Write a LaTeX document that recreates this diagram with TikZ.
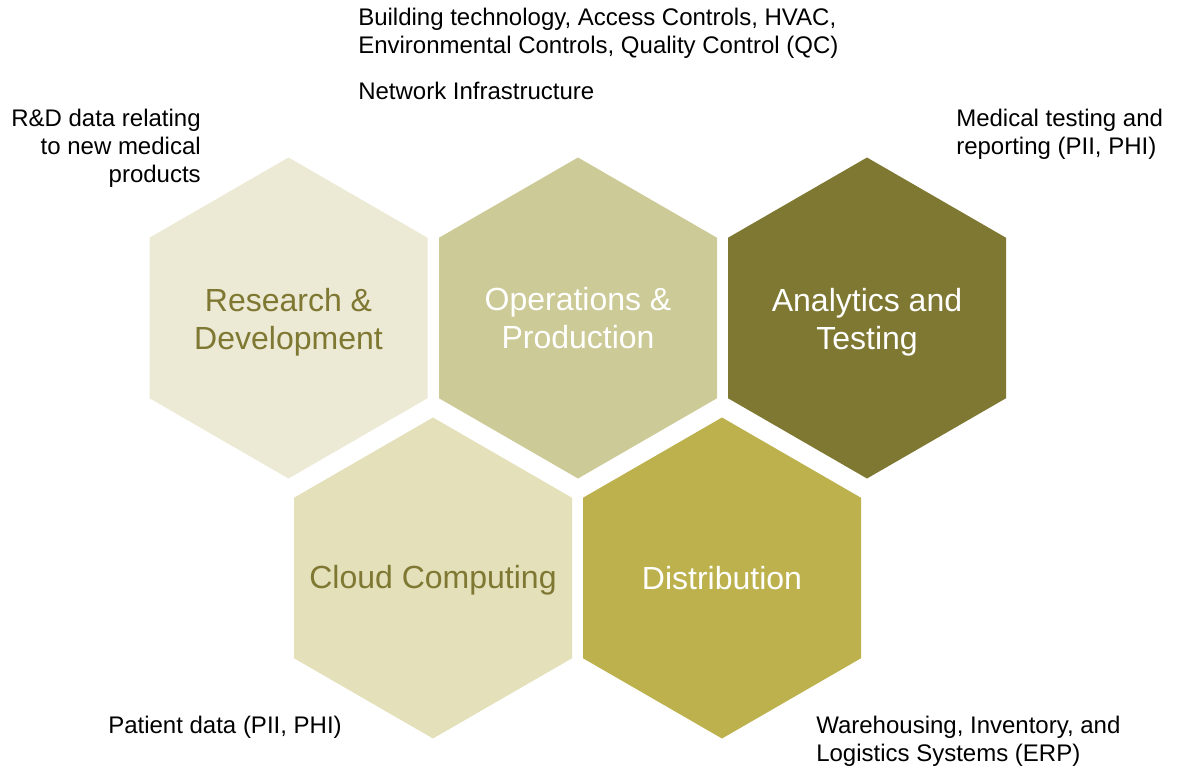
\documentclass[tikz,border=0pt]{standalone}
\usepackage{fontspec}
\setmainfont{Liberation Sans}
\usetikzlibrary{shapes.geometric}

\definecolor{olive}{HTML}{7F7832}
\definecolor{rdfill}{HTML}{ECE9D4}
\definecolor{opsfill}{HTML}{CCCA96}
\definecolor{cloudfill}{HTML}{E3E0BA}
\definecolor{distfill}{HTML}{BCB14C}

\begin{document}
\begin{tikzpicture}[x=0.75pt,y=-0.75pt,
    hexcell/.style={regular polygon,regular polygon sides=6,shape border rotate=30,
        minimum size=240.75pt,inner sep=0pt,outer sep=0pt},
    hextext/.style={inner sep=0pt,align=center,font=\fontsize{24}{28.5}\selectfont},
    note/.style={inner sep=0pt,font=\fontsize{18}{21}\selectfont}]
\useasboundingbox (0,0) rectangle (1179,771);

% Top row of cells
\node[hexcell,fill=rdfill] (rd) at (288.5,318) {};
\node[hexcell,fill=opsfill] (ops) at (578,318) {};
\node[hexcell,fill=olive] (ana) at (867,318) {};

% Bottom row, shifted by half a cell
\node[hexcell,fill=cloudfill] (cloud) at (433,578) {};
\node[hexcell,fill=distfill] (dist) at (722,578) {};

% Cell titles
\node[hextext,text=olive,yshift=-3pt] (rdtext) at (rd) {Research \&\\Development};
\node[hextext,text=white] (opstext) at (ops) {Operations \&\\Production};
\node[hextext,text=white,yshift=-3pt] (anatext) at (ana) {Analytics and\\Testing};
\node[hextext,text=olive,yshift=-2pt] (cloudtext) at (cloud) {Cloud Computing};
\node[hextext,text=white] (disttext) at (dist) {Distribution};

% Notes around the cells
\node[note,anchor=north east,align=right] (rdnote) at (201,108.5) {R\&D data relating\\to new medical\\products};
\node[note,anchor=north west,align=left] (opsnote) at (358,7.5) {Building technology, Access Controls, HVAC,\\Environmental Controls, Quality Control (QC)};
\node[note,anchor=north west] (netnote) at (358,81.5) {Network Infrastructure};
\node[note,anchor=north west,align=left] (ananote) at (956,108.5) {Medical testing and\\reporting (PII, PHI)};
\node[note,anchor=north west] (cloudnote) at (108,716) {Patient data (PII, PHI)};
\node[note,anchor=north west,align=left] (distnote) at (816,716) {Warehousing, Inventory, and\\Logistics Systems (ERP)};
\end{tikzpicture}
\end{document}
